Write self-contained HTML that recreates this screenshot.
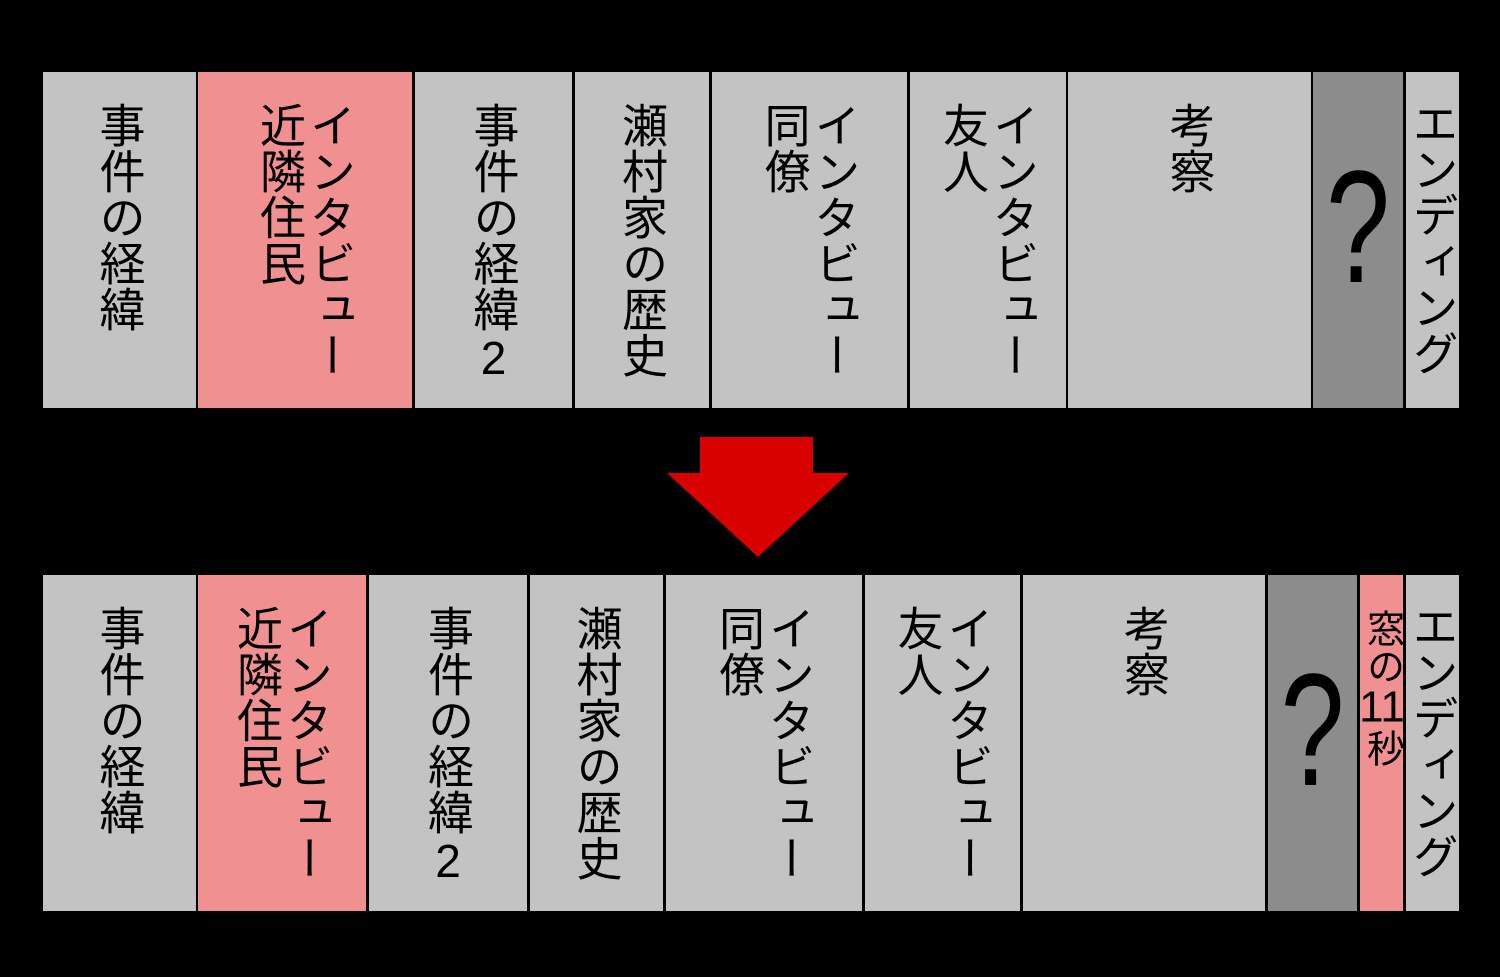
<!DOCTYPE html>
<html><head><meta charset="utf-8"><style>
body{margin:0;background:#000;width:1500px;height:977px;overflow:hidden;position:relative}
.b{position:absolute;background:#c3c3c3;display:flex;justify-content:center;align-items:flex-start;box-sizing:border-box}
.p{background:#f09090}.d{background:#8c8c8c}
.t{writing-mode:vertical-rl;text-orientation:upright;font-family:"Liberation Sans","Noto Sans CJK JP",sans-serif;font-size:46px;line-height:50px;color:#000;margin-top:30px}
.q{font-family:"Liberation Sans",sans-serif;font-size:160px;line-height:160px;color:#000;position:absolute;left:0;right:0;text-align:center;top:75px;transform:scaleX(0.72)}
</style></head><body>
<div class="b" style="left:43px;top:72px;width:153px;height:336px"><div class="t">事件の経緯</div></div>
<div class="b p" style="left:198px;top:72px;width:214px;height:336px"><div class="t">インタビュー<br>近隣住民</div></div>
<div class="b" style="left:415px;top:72px;width:157px;height:336px"><div class="t">事件の経緯2</div></div>
<div class="b" style="left:575px;top:72px;width:134px;height:336px"><div class="t">瀬村家の歴史</div></div>
<div class="b" style="left:712px;top:72px;width:195px;height:336px"><div class="t">インタビュー<br>同僚</div></div>
<div class="b" style="left:910px;top:72px;width:156px;height:336px"><div class="t">インタビュー<br>友人</div></div>
<div class="b" style="left:1068px;top:72px;width:243px;height:336px"><div class="t">考察</div></div>
<div class="b d" style="left:1313px;top:72px;width:90px;height:336px"><div class="q">?</div></div>
<div class="b" style="left:1406px;top:72px;width:53px;height:336px"><div class="t" style="margin-top:28px">エンディング</div></div>
<svg style="position:absolute;left:0;top:0" width="1500" height="977"><polygon points="700,437 813,437 813,473 849,473 758,557 667,473 700,473" fill="#d90000"/></svg>
<div class="b" style="left:43px;top:575px;width:153px;height:336px"><div class="t">事件の経緯</div></div>
<div class="b p" style="left:198px;top:575px;width:168px;height:336px"><div class="t">インタビュー<br>近隣住民</div></div>
<div class="b" style="left:369px;top:575px;width:158px;height:336px"><div class="t">事件の経緯2</div></div>
<div class="b" style="left:530px;top:575px;width:133px;height:336px"><div class="t">瀬村家の歴史</div></div>
<div class="b" style="left:666px;top:575px;width:196px;height:336px"><div class="t">インタビュー<br>同僚</div></div>
<div class="b" style="left:865px;top:575px;width:155px;height:336px"><div class="t">インタビュー<br>友人</div></div>
<div class="b" style="left:1023px;top:575px;width:242px;height:336px"><div class="t">考察</div></div>
<div class="b d" style="left:1268px;top:575px;width:89px;height:336px"><div class="q">?</div></div>
<div class="b p" style="left:1360px;top:575px;width:43px;height:336px"><div class="t" style="font-size:38px;line-height:40px;margin-top:34px">窓の<span style="text-combine-upright:all;font-size:44px">11</span>秒</div></div>
<div class="b" style="left:1406px;top:575px;width:53px;height:336px"><div class="t" style="margin-top:28px">エンディング</div></div>
</body></html>
